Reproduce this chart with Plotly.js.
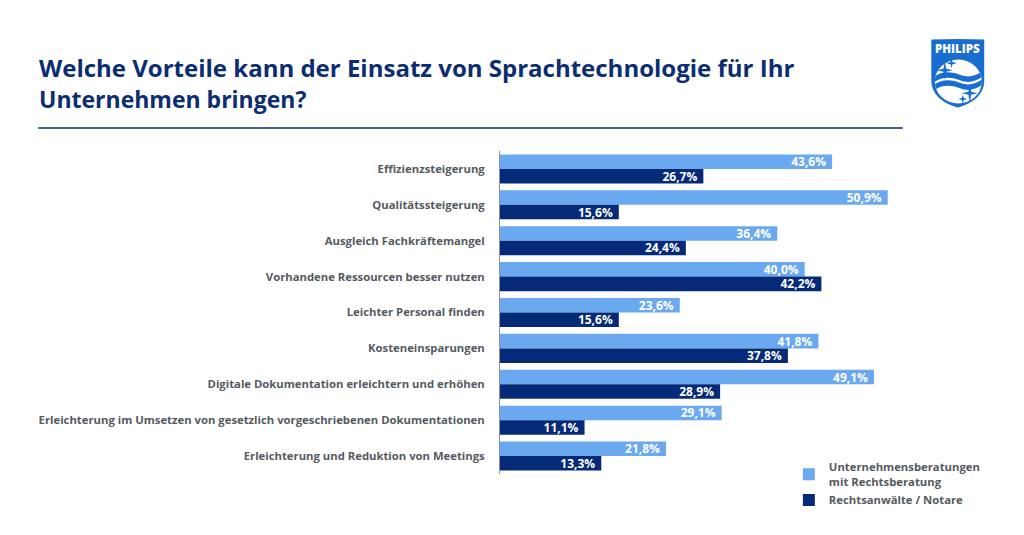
<!DOCTYPE html>
<html><head><meta charset="utf-8">
<script src="https://cdn.plot.ly/plotly-3.0.1.min.js"></script>
<style>html,body{margin:0;padding:0;background:#fff}#c{width:1024px;height:535px}</style>
</head><body><div id="c"></div>
<script>
const categories = ["Effizienzsteigerung","Qualitätssteigerung","Ausgleich Fachkräftemangel","Vorhandene Ressourcen besser nutzen","Leichter Personal finden","Kosteneinsparungen","Digitale Dokumentation erleichtern und erhöhen","Erleichterung im Umsetzen von gesetzlich vorgeschriebenen Dokumentationen","Erleichterung und Reduktion von Meetings"];
const beratung = [43.6,50.9,36.4,40.0,23.6,41.8,49.1,29.1,21.8];
const anwaelte = [26.7,15.6,24.4,42.2,15.6,37.8,28.9,11.1,13.3];
const seriesNames = ["Unternehmensberatungen<br>mit Rechtsberatung","Rechtsanwälte / Notare"];
const titleText = "Welche Vorteile kann der Einsatz von Sprachtechnologie für Ihr<br><span style=\"font-size:23px\">Unternehmen bringen?</span>";
const logoText = "PHILIPS";
const fam = '"Open Sans", sans-serif';
const fmt = v => v.toFixed(1).replace('.',',') + '%\u00a0';
function bar(name, vals, color){
  return {type:'bar',orientation:'h',name:name,y:categories,x:vals,
    marker:{color:color,line:{width:0}},text:vals.map(fmt),textposition:'inside',insidetextanchor:'end',
    textangle:0,constraintext:'none',cliponaxis:false,
    textfont:{family:fam,size:12,color:'#fff',weight:700},hoverinfo:'skip'};
}
const logo = `<svg xmlns="http://www.w3.org/2000/svg" viewBox="0 0 54 70">
<defs><clipPath id="g"><ellipse cx="27.5" cy="43.5" rx="23.5" ry="22"/></clipPath></defs>
<path d="M0.5 1.5 Q27 0.5 53.5 1.5 V42 C53.5 58 40 66 27 69.5 C14 66 0.5 58 0.5 42 Z" fill="#1a6dd0"/>
<ellipse cx="27.5" cy="43.5" rx="23.5" ry="22" fill="#fff"/>
<g clip-path="url(#g)" fill="#1a6dd0">
<path d="M3 39 C12 32 22 34 30 37 C38 40 45 38 52 33 V38.5 C45 43.5 38 45.5 30 42.5 C22 39.5 12 37.5 3 44.5Z"/>
<path d="M3 47 C12 40 22 42 30 45 C38 48 45 46 52 41 V46.5 C45 51.5 38 53.5 30 50.5 C22 47.5 12 45.5 3 52.5Z"/>
</g>
<path d="M14 23 L15.4 30.8 L22 32.3 L15.4 33.8 L14 42 L12.6 33.8 L6 32.3 L12.6 30.8Z" fill="#1a6dd0"/>
<path d="M20.7 20 L21.7 24.1 L26 25.2 L21.7 26.2 L20.7 30 L19.7 26.2 L15.5 25.2 L19.7 24.1Z" fill="#1a6dd0"/>
<path d="M39 46 L40.4 53.8 L47 55.3 L40.4 56.8 L39 65 L37.6 56.8 L31 55.3 L37.6 53.8Z" fill="#1a6dd0"/>
<path d="M32 56.5 L33 60 L36.5 61 L33 62 L32 65.5 L31 62 L27.5 61 L31 60Z" fill="#1a6dd0"/>
</svg>`;
const layout = {
  width:1024,height:535,paper_bgcolor:'#fff',plot_bgcolor:'#fff',
  margin:{l:500,r:66.8,t:151,b:61},
  barmode:'group',bargap:0.19,bargroupgap:0,showlegend:true,
  title:{text:titleText,x:39/1024,xref:'container',xanchor:'left',yref:'container',y:1-77/535,yanchor:'top',
    font:{family:fam,size:24,weight:700,color:'#0b2d71'}},
  xaxis:{range:[0,60],visible:false,fixedrange:true},
  yaxis:{autorange:'reversed',ticks:'',showgrid:false,zeroline:false,showline:true,linecolor:'#8a8f98',linewidth:1,
    ticklabelstandoff:12,tickfont:{family:fam,size:11.3,weight:700,color:'#555a62'},fixedrange:true},
  legend:{x:(789-500)/457.2,xanchor:'left',y:(474-453)/323,yanchor:'top',bgcolor:'rgba(0,0,0,0)',
    font:{family:fam,size:11.3,weight:700,color:'#555a62'},tracegroupgap:0,itemclick:false,itemdoubleclick:false},
  shapes:[{type:'line',xref:'paper',yref:'paper',x0:(38-500)/457.2,x1:(903-500)/457.2,y0:(474-128)/323,y1:(474-128)/323,line:{color:'#0b2d71',width:1.5}}],
  images:[{source:'data:image/svg+xml;charset=utf-8,'+encodeURIComponent(logo),xref:'paper',yref:'paper',
    x:(931-500)/457.2,y:(474-38)/323,sizex:54/457.2,sizey:70/323,xanchor:'left',yanchor:'top',sizing:'stretch'}],
  annotations:[{text:logoText,xref:'paper',yref:'paper',x:(958-500)/457.2,y:(474-49)/323,xanchor:'center',yanchor:'middle',showarrow:false,
    font:{family:fam,size:11.5,weight:800,color:'#fff'}}]
};
Plotly.newPlot('c',[bar(seriesNames[0],beratung,'#6aa9f0'),bar(seriesNames[1],anwaelte,'#042a78')],layout,{displayModeBar:false,staticPlot:true});
</script></body></html>
